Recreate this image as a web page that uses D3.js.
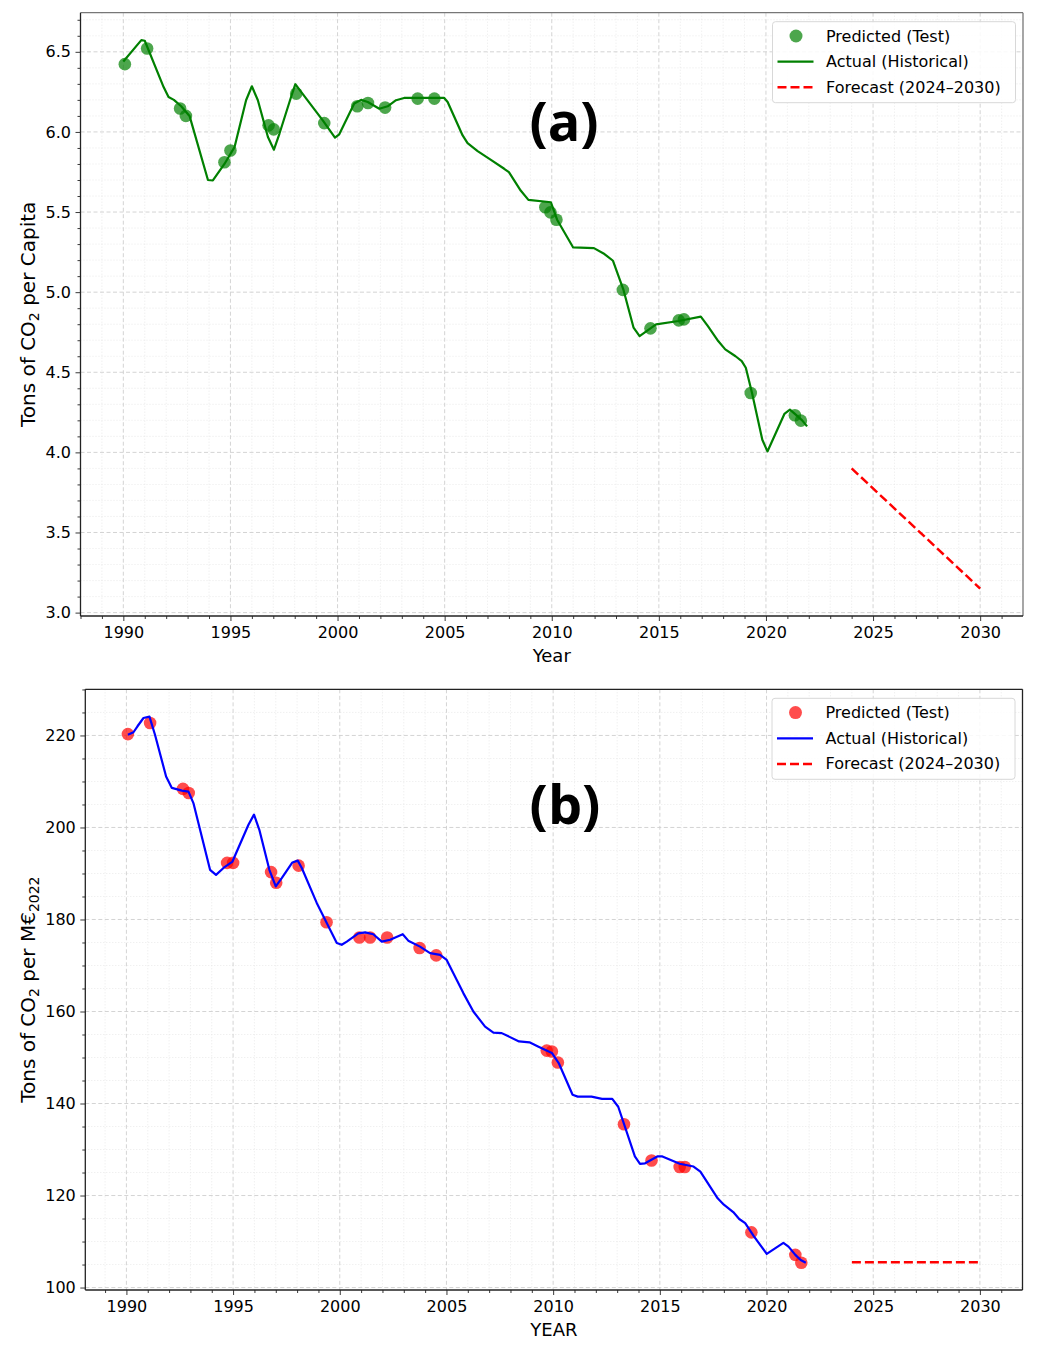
<!DOCTYPE html>
<html>
<head>
<meta charset="utf-8">
<script src="https://cdn.jsdelivr.net/npm/d3@7"></script>
<style>
  body { margin: 0; background: #fff; }
  svg text { font-family: "DejaVu Sans", sans-serif; fill: #000; }
</style>
</head>
<body>
<div id="chart"></div>
<script>

// historical series, panel (a): tons of CO2 per capita

var histYearsA = [1990.0, 1990.84, 1991.0, 1991.88, 1992.11, 1992.36, 1992.7, 1993.09, 1993.95, 1994.18,
  1994.72, 1995.19, 1995.73, 1996.0, 1996.28, 1996.75, 1997.03, 1997.29, 1997.83, 1998.03,
  1998.3, 1999.31, 1999.88, 2000.08, 2000.78, 2001.1, 2001.41, 2001.95, 2002.34, 2002.73,
  2003.11, 2004.98, 2005.14, 2005.84, 2006.07, 2006.54, 2007.16, 2007.78, 2008.0, 2008.55,
  2008.91, 2009.96, 2010.25, 2011.0, 2011.97, 2012.46, 2012.86, 2013.34, 2013.82, 2014.1,
  2014.87, 2015.92, 2016.96, 2017.29, 2017.77, 2018.1, 2018.58, 2018.87, 2019.06, 2019.35,
  2019.83, 2020.07, 2020.86, 2021.12, 2021.39, 2021.69, 2021.92];

var histValuesA = [6.44, 6.573, 6.569, 6.28, 6.218, 6.20, 6.16, 6.10, 5.70, 5.697,
  5.80, 5.905, 6.198, 6.285, 6.198, 5.968, 5.889, 5.99, 6.218, 6.298,
  6.25, 6.072, 5.964, 5.985, 6.177, 6.20, 6.187, 6.145, 6.16, 6.198,
  6.212, 6.212, 6.187, 5.978, 5.93, 5.88, 5.826, 5.77, 5.749, 5.634,
  5.576, 5.561, 5.452, 5.279, 5.275, 5.238, 5.196, 5.018, 4.778, 4.726,
  4.799, 4.82, 4.847, 4.788, 4.695, 4.643, 4.60, 4.57, 4.528, 4.371,
  4.079, 4.006, 4.24, 4.267, 4.236, 4.20, 4.162];

// historical series, panel (b): tons of CO2 per M EUR 2022

var histYearsB = [1990.07, 1990.33, 1990.52, 1990.8, 1991.08, 1991.34, 1991.86, 1992.13, 1992.6, 1992.91,
  1993.14, 1993.92, 1994.2, 1994.55, 1994.97, 1995.72, 1995.98, 1996.23, 1996.7, 1997.0,
  1997.28, 1997.78, 1998.03, 1998.22, 1998.92, 1999.86, 2000.09, 2000.33, 2000.87, 2001.19,
  2001.57, 2001.97, 2002.36, 2002.95, 2003.21, 2003.76, 2004.23, 2004.7, 2005.01, 2005.79,
  2006.26, 2006.81, 2007.2, 2007.59, 2008.4, 2008.89, 2009.29, 2009.94, 2010.26, 2010.91,
  2011.15, 2011.8, 2012.29, 2012.77, 2013.05, 2013.83, 2014.07, 2014.31, 2014.88, 2015.12,
  2015.93, 2016.58, 2016.9, 2017.71, 2018.0, 2018.44, 2018.72, 2019.0, 2019.41, 2020.01,
  2020.79, 2021.03, 2021.35, 2021.6, 2021.84];

var histValuesB = [220.15, 220.7, 222.0, 223.8, 224.1, 220.15, 211.1, 208.6, 208.0, 207.8,
  205.3, 190.8, 189.7, 191.2, 192.6, 200.6, 202.8, 199.5, 190.8, 187.2,
  189.0, 192.4, 192.8, 191.2, 183.6, 174.9, 174.5, 175.2, 177.0, 177.2,
  176.8, 175.2, 175.6, 176.8, 175.4, 174.1, 172.7, 172.3, 171.2, 164.0,
  160.0, 156.7, 155.4, 155.3, 153.5, 153.3, 152.4, 151.0, 148.8, 141.9,
  141.5, 141.5, 141.0, 141.0, 139.3, 128.5, 126.9, 127.0, 128.5, 128.5,
  126.9, 126.3, 125.2, 119.4, 118.0, 116.4, 114.9, 114.0, 111.1, 107.3,
  109.7, 108.9, 107.1, 106.0, 105.4];

// test-set predictions (same dates in both panels)

var testYears = [1990.07, 1991.11, 1992.65, 1992.92, 1994.72, 1995.0, 1996.78, 1997.02, 1998.07, 1999.38,
  2000.92, 2001.42, 2002.22, 2003.74, 2004.52, 2009.7, 2009.94, 2010.22, 2013.32, 2014.61,
  2015.93, 2016.17, 2019.29, 2021.35, 2021.63];

var predA = [6.423, 6.521, 6.146, 6.10, 5.811, 5.884, 6.041, 6.016, 6.239, 6.055,
  6.16, 6.181, 6.152, 6.208, 6.208, 5.53, 5.498, 5.452, 5.014, 4.774,
  4.824, 4.83, 4.371, 4.232, 4.198];

var predB = [220.3, 222.7, 208.4, 207.5, 192.3, 192.3, 190.3, 188.0, 191.7, 179.4,
  176.1, 176.1, 176.1, 173.8, 172.2, 151.5, 151.3, 148.9, 135.5, 127.6,
  126.2, 126.2, 112.0, 107.1, 105.4];

// forecast 2024-2030

var forecastYears = [2024, 2030];
var forecastA = [3.90, 3.15];
var forecastB = [105.5, 105.5];

// axis ticks and labels

var xTicks = [1990, 1995, 2000, 2005, 2010, 2015, 2020, 2025, 2030];
var yTicksA = [3.0, 3.5, 4.0, 4.5, 5.0, 5.5, 6.0, 6.5];
var yTicksB = [100, 120, 140, 160, 180, 200, 220];
var legendLabels = ["Predicted (Test)", "Actual (Historical)", "Forecast (2024\u20132030)"];

// svg

var width = 1039,
    height = 1353;

var svg = d3.select("#chart").append("svg")
  .attr("width", width)
  .attr("height", height)
  .style("display", "block");

svg.append("rect")
  .attr("width", width)
  .attr("height", height)
  .attr("fill", "#fff");

// matplotlib style 5% padding

function padExtent(values) {
  var e = d3.extent(values),
      m = (e[1] - e[0]) * 0.05;
  return [e[0] - m, e[1] + m];
}

function drawPanel(p) {

  var g = svg.append("g");

  var x = d3.scaleLinear()
    .domain(padExtent(p.histYears.concat(testYears, forecastYears)))
    .range([p.left, p.right]);

  var y = d3.scaleLinear()
    .domain(padExtent(p.histValues.concat(p.pred, p.forecast)))
    .range([p.bottom, p.top]);

  var xd = x.domain(), yd = y.domain();

  var xMinor = d3.range(Math.ceil(xd[0]), xd[1], 1)
    .filter(function(d) { return d % 5 !== 0; });

  var yMinor = d3.range(Math.ceil(yd[0] / p.yMinorStep) * p.yMinorStep, yd[1], p.yMinorStep)
    .filter(function(d) {
      return !p.yTicks.some(function(t) { return Math.abs(t - d) < 1e-6; });
    });

  // minor grid

  var grid = g.append("g");

  grid.selectAll(".vmin").data(xMinor).enter().append("line")
    .attr("x1", x).attr("x2", x).attr("y1", p.top).attr("y2", p.bottom)
    .attr("stroke", "#e4e4e4").attr("stroke-width", 0.8).attr("stroke-dasharray", "1,2");

  grid.selectAll(".hmin").data(yMinor).enter().append("line")
    .attr("y1", y).attr("y2", y).attr("x1", p.left).attr("x2", p.right)
    .attr("stroke", "#e4e4e4").attr("stroke-width", 0.8).attr("stroke-dasharray", "1,2");

  // major grid

  grid.selectAll(".vmaj").data(xTicks).enter().append("line")
    .attr("x1", x).attr("x2", x).attr("y1", p.top).attr("y2", p.bottom)
    .attr("stroke", "#cfcfcf").attr("stroke-width", 0.9).attr("stroke-dasharray", "4,2.5");

  grid.selectAll(".hmaj").data(p.yTicks).enter().append("line")
    .attr("y1", y).attr("y2", y).attr("x1", p.left).attr("x2", p.right)
    .attr("stroke", "#cfcfcf").attr("stroke-width", 0.9).attr("stroke-dasharray", "4,2.5");

  // predicted points

  g.selectAll(".pt")
    .data(d3.zip(testYears, p.pred))
    .enter()
      .append("circle")
        .attr("cx", function(d) { return x(d[0]); })
        .attr("cy", function(d) { return y(d[1]); })
        .attr("r", 6.3)
        .attr("fill", p.pointColor)
        .attr("fill-opacity", 0.7);

  // historical line

  var line = d3.line()
    .x(function(d) { return x(d[0]); })
    .y(function(d) { return y(d[1]); });

  g.append("path")
    .datum(d3.zip(p.histYears, p.histValues))
    .attr("d", line)
    .attr("fill", "none")
    .attr("stroke", p.lineColor)
    .attr("stroke-width", 2.2)
    .attr("stroke-linejoin", "round");

  // forecast

  g.append("path")
    .datum(d3.zip(forecastYears, p.forecast))
    .attr("d", line)
    .attr("fill", "none")
    .attr("stroke", "#ff0000")
    .attr("stroke-width", 2.5)
    .attr("stroke-dasharray", "9,4");

  // axes

  g.append("g")
    .attr("transform", "translate(0," + p.bottom + ")")
    .call(d3.axisBottom(x).tickValues(xTicks).tickSize(5).tickPadding(6).tickFormat(d3.format("d")));

  g.append("g")
    .attr("transform", "translate(0," + p.bottom + ")")
    .call(d3.axisBottom(x).tickValues(xMinor).tickSize(3).tickFormat(""));

  g.append("g")
    .attr("transform", "translate(" + p.left + ",0)")
    .call(d3.axisLeft(y).tickValues(p.yTicks).tickSize(5).tickPadding(4.5).tickFormat(d3.format(p.yFormat)));

  g.append("g")
    .attr("transform", "translate(" + p.left + ",0)")
    .call(d3.axisLeft(y).tickValues(yMinor).tickSize(3).tickFormat(""));

  g.selectAll(".domain").remove();
  g.selectAll(".tick line").attr("stroke", "#222").attr("stroke-width", 0.9);
  g.selectAll(".tick text")
    .attr("font-family", "DejaVu Sans")
    .attr("font-size", 16)
    .attr("fill", "#111");

  // spines

  g.append("line").attr("x1", p.left).attr("x2", p.right).attr("y1", p.top).attr("y2", p.top)
    .attr("stroke", p.frameColor).attr("stroke-width", 1.3);
  g.append("line").attr("x1", p.right).attr("x2", p.right).attr("y1", p.top).attr("y2", p.bottom)
    .attr("stroke", p.frameColor).attr("stroke-width", 1.3);
  g.append("line").attr("x1", p.left).attr("x2", p.left).attr("y1", p.top).attr("y2", p.bottom)
    .attr("stroke", "#222").attr("stroke-width", 1.3);
  g.append("line").attr("x1", p.left).attr("x2", p.right).attr("y1", p.bottom).attr("y2", p.bottom)
    .attr("stroke", "#222").attr("stroke-width", 1.3);

  // axis labels

  g.append("text")
    .attr("x", (p.left + p.right) / 2)
    .attr("y", p.bottom + 46)
    .attr("text-anchor", "middle")
    .attr("font-size", 18)
    .text(p.xLabel);

  var yl = g.append("text")
    .attr("transform", "translate(35," + ((p.top + p.bottom) / 2) + ") rotate(-90)")
    .attr("text-anchor", "middle")
    .attr("font-size", 20);

  p.yLabel.forEach(function(part) {
    var t = yl.append("tspan").text(part.text);
    if (part.sub) t.attr("font-size", 14).attr("dy", 4);
    else if (part.after) t.attr("dy", -4);
  });

  // panel letter

  g.append("text")
    .attr("x", p.letterX)
    .attr("y", p.letterY)
    .attr("text-anchor", "middle")
    .style("font-family", "'Open Sans', 'DejaVu Sans', sans-serif")
    .attr("font-weight", 700)
    .attr("font-size", 54)
    .text(p.letter);

  // legend

  var lw = 243, lh = 81,
      lx = p.right - 7.5 - lw,
      ly = p.top + 9;

  var leg = g.append("g").attr("transform", "translate(" + lx + "," + ly + ")");

  leg.append("rect")
    .attr("width", lw)
    .attr("height", lh)
    .attr("rx", 3)
    .attr("fill", "#fff")
    .attr("fill-opacity", 0.85)
    .attr("stroke", "#d8d8d8")
    .attr("stroke-width", 1);

  var rows = [14.3, 40, 65.6];

  leg.append("circle")
    .attr("cx", 23.5).attr("cy", rows[0]).attr("r", 6.5)
    .attr("fill", p.pointColor).attr("fill-opacity", 0.7);

  leg.append("line")
    .attr("x1", 5).attr("x2", 41).attr("y1", rows[1]).attr("y2", rows[1])
    .attr("stroke", p.lineColor).attr("stroke-width", 2.2);

  leg.append("line")
    .attr("x1", 5).attr("x2", 41).attr("y1", rows[2]).attr("y2", rows[2])
    .attr("stroke", "#ff0000").attr("stroke-width", 2.5).attr("stroke-dasharray", "9,4");

  leg.selectAll(".lt")
    .data(legendLabels)
    .enter()
      .append("text")
        .attr("x", 53.5)
        .attr("y", function(d, i) { return rows[i]; })
        .attr("dy", "0.35em")
        .attr("font-size", 16)
        .text(function(d) { return d; });
}

// panel (a)

drawPanel({
  left: 80.5, right: 1023, top: 12.7, bottom: 616,
  histYears: histYearsA, histValues: histValuesA,
  pred: predA, forecast: forecastA,
  yTicks: yTicksA, yMinorStep: 0.1, yFormat: ".1f",
  pointColor: "#008000", lineColor: "#008000", frameColor: "#777",
  xLabel: "Year",
  yLabel: [{text: "Tons of CO"}, {text: "2", sub: true}, {text: " per Capita", after: true}],
  letter: "(a)", letterX: 564, letterY: 141
});

// panel (b)

drawPanel({
  left: 85.3, right: 1022.5, top: 689.3, bottom: 1290,
  histYears: histYearsB, histValues: histValuesB,
  pred: predB, forecast: forecastB,
  yTicks: yTicksB, yMinorStep: 5, yFormat: "d",
  pointColor: "#ff0000", lineColor: "#0000ff", frameColor: "#222",
  xLabel: "YEAR",
  yLabel: [{text: "Tons of CO"}, {text: "2", sub: true}, {text: " per M\u20ac", after: true}, {text: "2022", sub: true}],
  letter: "(b)", letterX: 565, letterY: 824
});

</script>
</body>
</html>
